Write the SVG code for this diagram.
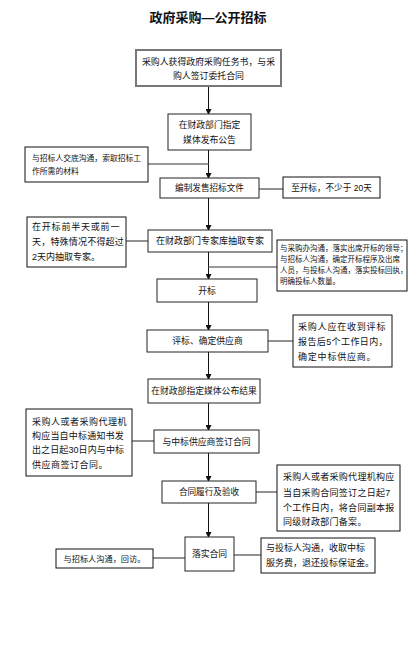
<svg xmlns="http://www.w3.org/2000/svg" width="416" height="662" viewBox="0 0 416 662">
<style>
.box{fill:#fff;stroke:#222;stroke-width:1}
.b1{fill:#fff;stroke:#777;stroke-width:2}
.note{fill:#fff;stroke:#111;stroke-width:1}
.t{font-family:"Liberation Sans","Noto Sans CJK SC",sans-serif;fill:#111}
.c{text-anchor:middle}
.flow{stroke:#111;stroke-width:1;fill:none}
.side{stroke:#777;stroke-width:1.6;fill:none}
</style>
<defs>
<marker id="ah" markerWidth="6" markerHeight="6" refX="5" refY="3" orient="auto" markerUnits="userSpaceOnUse">
<path d="M0,0 L6,3 L0,6 z" fill="#111"/>
</marker>
</defs>
<rect width="416" height="662" fill="#fff"/>
<text class="t c" x="208" y="22" font-size="13" font-weight="bold">政府采购—公开招标</text>

<g id="connectors">
<line class="flow" x1="208.5" y1="86" x2="208.5" y2="114" marker-end="url(#ah)"/>
<line class="flow" x1="208.5" y1="150" x2="208.5" y2="178" marker-end="url(#ah)"/>
<line class="side" x1="148" y1="164" x2="208.5" y2="164"/>
<line class="side" x1="259" y1="189" x2="283" y2="189"/>
<line class="flow" x1="208.5" y1="198" x2="208.5" y2="230" marker-end="url(#ah)"/>
<line class="side" x1="126" y1="241" x2="148" y2="241"/>
<line class="flow" x1="208.5" y1="252" x2="208.5" y2="279" marker-end="url(#ah)"/>
<line class="side" x1="208.5" y1="267" x2="277" y2="267"/>
<line class="flow" x1="208.5" y1="302" x2="208.5" y2="330" marker-end="url(#ah)"/>
<line class="side" x1="268" y1="341" x2="293" y2="341"/>
<line class="flow" x1="208.5" y1="352" x2="208.5" y2="379" marker-end="url(#ah)"/>
<line class="flow" x1="208.5" y1="403" x2="208.5" y2="430" marker-end="url(#ah)"/>
<line class="side" x1="132" y1="441" x2="154" y2="441"/>
<line class="flow" x1="208.5" y1="453" x2="208.5" y2="481" marker-end="url(#ah)"/>
<line class="side" x1="256" y1="492" x2="277" y2="492"/>
<line class="flow" x1="208.5" y1="503" x2="208.5" y2="537" marker-end="url(#ah)"/>
<line class="side" x1="153" y1="558" x2="185" y2="558"/>
<line class="side" x1="234" y1="555" x2="261" y2="555"/>
</g>

<g id="n1">
<rect class="b1" x="136" y="50" width="145" height="36"/>
<text class="t c" x="208.5" y="65" font-size="8.9">采购人获得政府采购任务书，与采</text>
<text class="t c" x="208.5" y="79" font-size="8.9">购人签订委托合同</text>
</g>
<g id="n2">
<rect class="box" x="168" y="114" width="83" height="36"/>
<text class="t c" x="209.5" y="128" font-size="8.8">在财政部门指定</text>
<text class="t c" x="209.5" y="143" font-size="8.8">媒体发布公告</text>
</g>
<g id="note2">
<rect class="note" x="25" y="147" width="123" height="35"/>
<text class="t" x="32" y="161" font-size="7.8">与招标人交底沟通，索取招标工</text>
<text class="t" x="32" y="174" font-size="7.8">作所需的材料</text>
</g>
<g id="n3">
<rect class="box" x="160" y="178" width="99" height="20"/>
<text class="t c" x="209.5" y="191" font-size="8.6">编制发售招标文件</text>
</g>
<g id="note3">
<rect class="note" x="283" y="177" width="97" height="21"/>
<text class="t c" x="331.5" y="191" font-size="8.6">至开标，不少于 20天</text>
</g>
<g id="n4">
<rect class="box" x="148" y="230" width="124" height="22"/>
<text class="t c" x="210" y="244" font-size="9">在财政部门专家库抽取专家</text>
</g>
<g id="note4">
<rect class="note" x="27" y="217" width="99" height="50"/>
<text class="t" x="32" y="230" font-size="9" letter-spacing="0.8">在开标前半天或前一</text>
<text class="t" x="32" y="245" font-size="9" letter-spacing="0.2">天，特殊情况不得超过</text>
<text class="t" x="32" y="260" font-size="9">2天内抽取专家。</text>
</g>
<g id="note5">
<rect class="note" x="277" y="240" width="130" height="51"/>
<text class="t" x="280" y="251" font-size="7.5">与采购办沟通，落实出席开标的领导；</text>
<text class="t" x="280" y="262" font-size="7.5">与招标人沟通，确定开标程序及出席</text>
<text class="t" x="280" y="273" font-size="7.5">人员，与投标人沟通，落实投标回执，</text>
<text class="t" x="280" y="284" font-size="7.5">明确投标人数量。</text>
</g>
<g id="n5">
<rect class="box" x="157" y="279" width="100" height="23"/>
<text class="t c" x="207" y="294" font-size="8.8">开标</text>
</g>
<g id="n6">
<rect class="box" x="147" y="330" width="121" height="22"/>
<text class="t c" x="207.5" y="344" font-size="8.8">评标、确定供应商</text>
</g>
<g id="note6">
<rect class="note" x="293" y="315" width="99" height="52"/>
<text class="t" x="298" y="330" font-size="9" letter-spacing="0.8">采购人应在收到评标</text>
<text class="t" x="298" y="345" font-size="9" letter-spacing="0.4">报告后5个工作日内，</text>
<text class="t" x="298" y="360" font-size="9" letter-spacing="0.8">确定中标供应商。</text>
</g>
<g id="n7">
<rect class="box" x="148" y="379" width="112" height="24"/>
<text class="t c" x="204" y="394" font-size="8.8">在财政部指定媒体公布结果</text>
</g>
<g id="n8">
<rect class="box" x="154" y="430" width="105" height="23"/>
<text class="t c" x="206.5" y="445" font-size="8.8">与中标供应商签订合同</text>
</g>
<g id="note8">
<rect class="note" x="26" y="409" width="106" height="67"/>
<text class="t" x="32" y="425" font-size="9" letter-spacing="0.5">采购人或者采购代理机</text>
<text class="t" x="32" y="439" font-size="9" letter-spacing="0.2">构应当自中标通知书发</text>
<text class="t" x="32" y="453" font-size="9" letter-spacing="0.1">出之日起30日内与中标</text>
<text class="t" x="32" y="468" font-size="9" letter-spacing="0.5">供应商签订合同。</text>
</g>
<g id="n9">
<rect class="box" x="162" y="481" width="94" height="22"/>
<text class="t c" x="209" y="495" font-size="8.6">合同履行及验收</text>
</g>
<g id="note9">
<rect class="note" x="277" y="465" width="123" height="66"/>
<text class="t" x="283" y="480" font-size="9" letter-spacing="0.3">采购人或者采购代理机构应</text>
<text class="t" x="283" y="496" font-size="9" letter-spacing="0.3">当自采购合同签订之日起7</text>
<text class="t" x="283" y="511" font-size="9" letter-spacing="0.3">个工作日内，将合同副本报</text>
<text class="t" x="283" y="525" font-size="9" letter-spacing="0.3">同级财政部门备案。</text>
</g>
<g id="n10">
<rect class="box" x="185" y="537" width="49" height="34"/>
<text class="t c" x="209.5" y="557" font-size="8.8">落实合同</text>
</g>
<g id="note10a">
<rect class="note" x="56" y="549" width="97" height="19"/>
<text class="t c" x="104.5" y="562" font-size="8.2">与招标人沟通，回访。</text>
</g>
<g id="note10b">
<rect class="note" x="261" y="538" width="114" height="35"/>
<text class="t" x="266" y="551" font-size="9">与投标人沟通，收取中标</text>
<text class="t" x="266" y="566" font-size="9">服务费，退还投标保证金。</text>
</g>
</svg>
